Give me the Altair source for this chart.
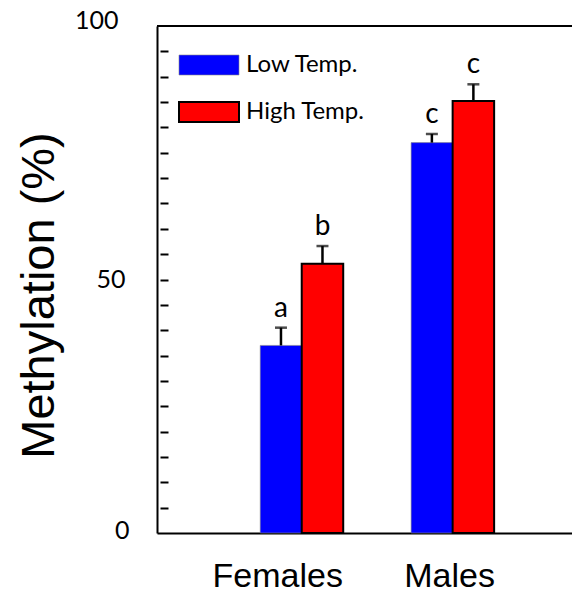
import altair as alt
import pandas as pd

groups = ["Females", "Females", "Males", "Males"]
temps = ["Low Temp.", "High Temp.", "Low Temp.", "High Temp."]
means = [37.0, 53.1, 77.0, 85.2]
errs = [3.5, 3.5, 1.7, 3.3]
letters = ["a", "b", "c", "c"]

temp_order = ["Low Temp.", "High Temp."]
temp_colors = ["#0000FF", "#FF0000"]

df = pd.DataFrame({"group": groups, "temp": temps, "mean": means, "err": errs, "letter": letters})
df["top"] = df["mean"] + df["err"]

yscale = alt.Scale(domain=[0, 100], nice=False, zero=True)

xaxis = alt.Axis(
    title=None, ticks=False, domain=True, domainColor="black", domainWidth=2,
    labelFont="Liberation Sans", labelFontSize=34, labelColor="black", labelPadding=26,
    labelAngle=0,
    labelOffset={"condition": {"test": "datum.value === 'Females'", "value": -24}, "value": -3},
)
xenc = alt.X("group:N", axis=xaxis, sort=["Females", "Males"],
             scale=alt.Scale(paddingInner=0.45, paddingOuter=0.6, align=0.57))
xoff = alt.XOffset("temp:N", sort=temp_order, scale=alt.Scale(paddingInner=0, paddingOuter=0))

main_yaxis = alt.Axis(
    title="Methylation (%)", titleFont="Liberation Sans", titleFontSize=47, titleFontWeight="normal",
    titleColor="black", titleX=-118, titleY=269, titleAngle=-90, titleBaseline="middle", titleAlign="center",
    values=[0, 50, 100], ticks=False, domain=True, domainColor="black", domainWidth=2, grid=False,
    labelFont="Lato", labelFontSize=25, labelColor="black", labelAlign="right", labelBaseline="middle",
    labelPadding={"condition": [{"test": "datum.value === 100", "value": 39},
                                {"test": "datum.value === 50", "value": 32}], "value": 28},
    labelOffset={"condition": [{"test": "datum.value === 100", "value": -6},
                               {"test": "datum.value === 0", "value": -3}], "value": 0},
    orient="left",
)
minor_yaxis = alt.Axis(
    title=None, labels=False, domain=False, grid=False, ticks=True, tickSize=8, tickWidth=2,
    tickColor="black", values=list(range(5, 100, 5)), orient="left", offset=-11,
)

base = alt.Chart(df)

bars = base.mark_bar().encode(
    x=xenc, xOffset=xoff,
    y=alt.Y("mean:Q", scale=yscale, axis=main_yaxis),
    fill=alt.Fill("temp:N", sort=temp_order,
                  scale=alt.Scale(domain=temp_order, range=temp_colors),
                  legend=alt.Legend(
                      title=None, orient="none", legendX=40, legendY=27, padding=0,
                      symbolType="M-3,-1H3V1H-3Z", symbolSize=400,
                      symbolStrokeColor="black", symbolStrokeWidth=2, symbolOpacity=1,
                      labelFont="Lato", labelFontSize=24, labelColor="black", labelOffset=25,
                      rowPadding=21, labelLimit=300,
                  )),
    stroke=alt.Stroke("temp:N", scale=alt.Scale(domain=temp_order, range=["#888888", "black"]), legend=None),
    strokeWidth=alt.StrokeWidth("temp:N", scale=alt.Scale(domain=temp_order, range=[0.6, 2]), legend=None),
)

stems = base.mark_rule(color="black", strokeWidth=2.5).encode(
    x=xenc, xOffset=xoff,
    y=alt.Y("mean:Q", scale=yscale, axis=None), y2="top:Q",
)
caps = base.mark_tick(color="black", thickness=2.5, size=12, orient="horizontal").encode(
    x=xenc, xOffset=xoff,
    y=alt.Y("top:Q", scale=yscale, axis=None),
)
labels = base.mark_text(font="Lato", fontSize=28, color="black", baseline="bottom", dy=-5).encode(
    x=xenc, xOffset=xoff,
    y=alt.Y("top:Q", scale=yscale, axis=None),
    text="letter:N",
)
topline = alt.Chart(df).mark_rule(color="black", strokeWidth=2).encode(
    y=alt.YDatum(100, scale=yscale, axis=minor_yaxis),
)

chart = alt.layer(bars, stems, caps, labels, topline).resolve_axis(y="independent").properties(
    width=415, height=507,
    autosize=alt.AutoSizeParams(type="none"),
    padding={"left": 157, "top": 26, "right": 0, "bottom": 61},
    background="white",
).configure_view(stroke=None)

chart.save("out.html", embed_options={"renderer": "svg", "actions": False})
